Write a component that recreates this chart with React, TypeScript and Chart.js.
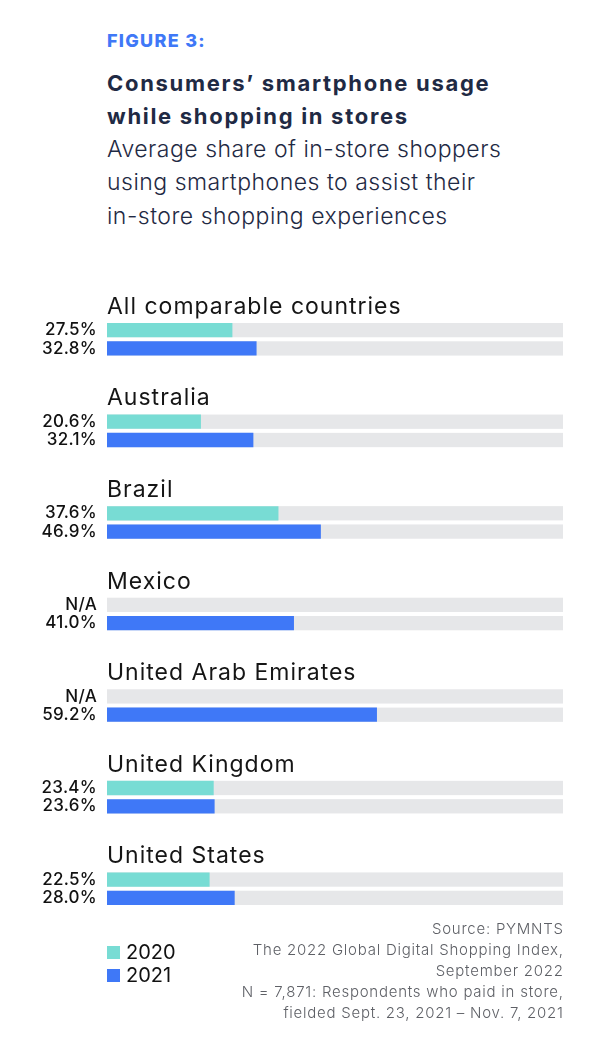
import React, { useEffect, useRef } from "react";
import { Chart, registerables } from "chart.js";

Chart.register(...registerables);

const countries = [
  "All comparable countries",
  "Australia",
  "Brazil",
  "Mexico",
  "United Arab Emirates",
  "United Kingdom",
  "United States",
];
const values2020: (number | null)[] = [27.5, 20.6, 37.6, null, null, 23.4, 22.5];
const values2021: (number | null)[] = [32.8, 32.1, 46.9, 41.0, 59.2, 23.6, 28.0];
const seriesNames = ["2020", "2021"];
const scaleMax = 100;

const TEAL = "#78DCD4";
const BLUE = "#3F78F7";
const GREY = "#E6E7E9";
const FONT = "Inter, 'Noto Sans', sans-serif";

const trackPlugin = {
  id: "tracks",
  beforeDatasetsDraw(chart: any) {
    const { ctx } = chart;
    const xs = chart.scales.x;
    const x0 = xs.getPixelForValue(0);
    const x1 = xs.getPixelForValue(scaleMax);
    ctx.save();
    ctx.fillStyle = GREY;
    chart.data.datasets.forEach((_: any, di: number) => {
      const meta = chart.getDatasetMeta(di);
      meta.data.forEach((el: any) => {
        ctx.fillRect(x0, el.y - el.height / 2, x1 - x0, el.height);
      });
    });
    ctx.restore();
  },
  afterDatasetsDraw(chart: any) {
    const { ctx } = chart;
    const xs = chart.scales.x;
    const ys = chart.scales.y;
    ctx.save();
    // value labels
    ctx.font = `500 17px ${FONT}`;
    try { (ctx as any).letterSpacing = "0.3px"; } catch (e) {}
    ctx.fillStyle = "#111111";
    ctx.textAlign = "right";
    ctx.textBaseline = "middle";
    chart.data.datasets.forEach((ds: any, di: number) => {
      const meta = chart.getDatasetMeta(di);
      meta.data.forEach((el: any, i: number) => {
        const v = ds.data[i];
        const t = v == null ? "N/A" : `${v.toFixed(1)}%`;
        ctx.fillText(t, xs.left - 10, el.y);
      });
    });
    // category labels
    ctx.font = `400 23px ${FONT}`;
    try { (ctx as any).letterSpacing = "1px"; } catch (e) {}
    ctx.fillStyle = "#151515";
    ctx.textAlign = "left";
    ctx.textBaseline = "alphabetic";
    chart.data.labels.forEach((lab: string, i: number) => {
      ctx.fillText(lab, xs.left, ys.getPixelForValue(i) - 25.5);
    });
    ctx.restore();
  },
};

function BarChart() {
  const ref = useRef<HTMLCanvasElement | null>(null);
  useEffect(() => {
    if (!ref.current) return;
    const chart = new Chart(ref.current, {
      type: "bar",
      data: {
        labels: countries,
        datasets: [
          { label: seriesNames[0], data: values2020, backgroundColor: TEAL, categoryPercentage: 0.4, barPercentage: 0.78 },
          { label: seriesNames[1], data: values2021, backgroundColor: BLUE, categoryPercentage: 0.4, barPercentage: 0.78 },
        ],
      },
      options: {
        indexAxis: "y",
        animation: false,
        responsive: false,
        maintainAspectRatio: false,
        layout: { padding: { left: 107, right: 44, top: 43.5, bottom: 15.5 } },
        scales: {
          x: { display: false, min: 0, max: scaleMax },
          y: { display: false, offset: true },
        },
        plugins: {
          legend: { display: false },
          tooltip: { enabled: false },
        },
      },
      plugins: [trackPlugin],
    } as any);
    return () => chart.destroy();
  }, []);
  return (
    <canvas
      ref={ref}
      width={607}
      height={700}
      style={{ position: "absolute", left: 0, top: 250, width: 607, height: 700 }}
    />
  );
}

export default function App() {
  const abs = (o: React.CSSProperties): React.CSSProperties => ({ position: "absolute", margin: 0, whiteSpace: "nowrap", ...o });
  return (
    <div style={{ position: "absolute", left: 0, top: 0, width: 607, height: 1053, background: "#ffffff", overflow: "hidden", fontFamily: FONT }}>
      <BarChart />
      <div style={abs({ left: 107, top: 31, fontSize: 18, lineHeight: "20px", fontWeight: 800, letterSpacing: "1.3px", color: "#3F78F7" })}>FIGURE 3:</div>
      <div style={abs({ left: 107, top: 67.2, fontSize: 22, lineHeight: "33px", fontWeight: 700, letterSpacing: "1.7px", color: "#1F2A44" })}>
        Consumers’ smartphone usage<br />while shopping in stores
      </div>
      <div style={abs({ left: 107, top: 133.2, fontSize: 23, lineHeight: "33.3px", fontWeight: 300, letterSpacing: "0.5px", color: "#1F2A44" })}>
        Average share of in-store shoppers<br />using smartphones to assist their<br />in-store shopping experiences
      </div>
      <div style={abs({ left: 107, top: 941, fontSize: 20, lineHeight: "23px", color: "#111111" })}>
        {seriesNames.map((s, i) => (
          <div key={s} style={{ display: "flex", alignItems: "center" }}>
            <span style={{ display: "inline-block", width: 13, height: 13, background: i === 0 ? TEAL : BLUE, marginRight: 6 }} />
            <span>{s}</span>
          </div>
        ))}
      </div>
      <div style={abs({ right: 43.3, top: 918.3, fontSize: 15, lineHeight: "21px", fontWeight: 300, letterSpacing: "0.75px", color: "#5E6066", textAlign: "right" })}>
        Source: PYMNTS<br />The 2022 Global Digital Shopping Index,<br />September 2022<br />N = 7,871: Respondents who paid in store,<br />fielded Sept. 23, 2021 – Nov. 7, 2021
      </div>
    </div>
  );
}
